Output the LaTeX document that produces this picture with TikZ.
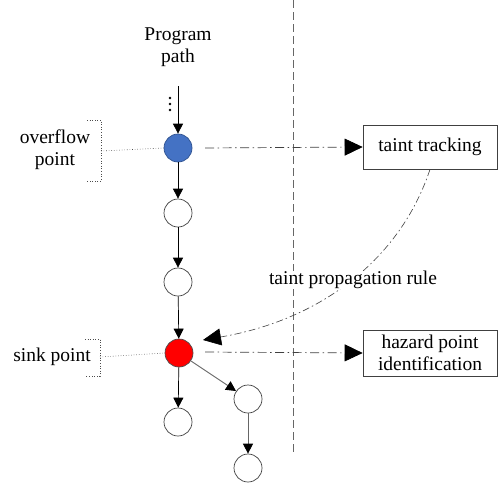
\documentclass[tikz,border=0pt]{standalone}
\usepackage{fontspec}
\setmainfont{Liberation Serif}
\usetikzlibrary{arrows.meta}
\begin{document}
\begin{tikzpicture}[x=1pt,y=-1pt,
  font=\fontsize{19.5}{22}\selectfont,
  pnode/.style={circle,draw=black!75,line width=0.7pt,minimum size=28pt,inner sep=0pt,fill=white},
  flow/.style={draw=black,line width=0.7pt,-{Triangle[length=10pt,width=10pt]}},
  grayflow/.style={draw=black!60,line width=0.9pt,-{Triangle[length=10pt,width=10pt,color=black]}},
  dashdot/.style={draw=black!75,line width=0.7pt,dash pattern=on 9pt off 3.5pt on 1.5pt off 3.5pt,-{Triangle[length=18pt,width=17pt,color=black]}},
  boxnode/.style={draw=black!75,line width=0.7pt,fill=white,minimum width=134pt,align=center},
  brace/.style={draw=black!70,line width=0.6pt,dotted},
  dot/.style={circle,fill=black,inner sep=0pt,minimum size=2.8pt},
  lbl/.style={align=center,inner sep=1pt}]
\useasboundingbox (0,0) rectangle (500,482);

% separator between program side and analysis side
\draw[black!60,line width=0.8pt,dash pattern=on 8pt off 4pt] (293,0) -- (293,455);

% program path
\node[lbl] (title) at (178,47) {Program\\path};
\coordinate (top) at (178,86);
\node[dot] (d1) at (170,98) {};
\node[dot] (d2) at (170,104) {};
\node[dot] (d3) at (170,110) {};
\node[pnode,fill={rgb,255:red,68;green,114;blue,196},draw={rgb,255:red,47;green,82;blue,143}] (ov) at (178,148) {};
\node[pnode] (n2) at (178,213) {};
\node[pnode] (n3) at (178,282) {};
\node[pnode,fill=red,draw=black!70] (sink) at (179,353) {};
\node[pnode] (n5) at (178,422) {};
\node[pnode] (n6) at (248,399) {};
\node[pnode] (n7) at (248,468) {};

\draw[flow] (top) -- (ov);
\draw[flow] (ov) -- (n2);
\draw[flow] (n2) -- (n3);
\draw[flow] (n3) -- (sink);
\draw[flow] (sink) -- (n5);
\draw[grayflow] (sink) -- (n6);
\draw[grayflow] (n6) -- (n7);

% side labels with brackets
\node[lbl] (ovl) at (55,150) {overflow\\point};
\draw[brace] (87,120) -- (101,120) -- (101,181) -- (87,181);
\coordinate (ovb) at (101,151);
\draw[brace] (ovb) -- (ov.west);

\node[lbl] (sinkl) at (52,357) {sink point};
\draw[brace] (85,339) -- (100,339) -- (100,376) -- (85,376);
\coordinate (sinkb) at (100,357);
\draw[brace] (sinkb) -- (sink.west);

% analysis side
\node[boxnode,minimum height=44pt] (track) at (430,147) {taint tracking};
\node[boxnode,minimum height=46pt] (hazard) at (430,353) {hazard point\\identification};

\coordinate (ovout) at (205,148);
\coordinate (sinkout) at (205,352);
\coordinate (sinkin) at (203,340);
\draw[dashdot] (ovout) -- (track.west);
\draw[dashdot] (sinkout) -- (hazard.west);
\draw[dashdot,line width=0.6pt,dash pattern=on 7pt off 3pt on 1.5pt off 3pt] (track.south) .. controls (400,260) and (320,320) .. (sinkin);
\node[lbl,fill=white,inner sep=0pt] (rule) at (353,280) {taint propagation rule};
\end{tikzpicture}
\end{document}
